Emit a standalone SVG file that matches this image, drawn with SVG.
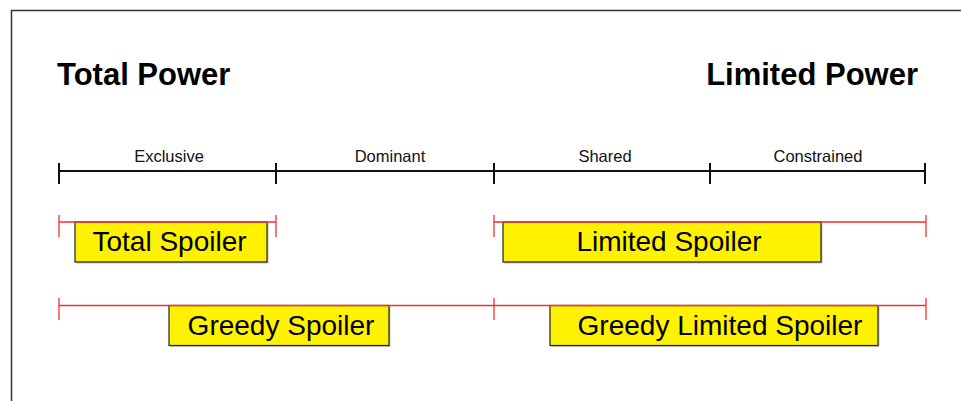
<svg xmlns="http://www.w3.org/2000/svg" width="961" height="401" viewBox="0 0 961 401">
<style>
.title{font-family:"Liberation Sans",Arial,sans-serif;font-weight:bold;font-size:31px;fill:#000}
.lab{font-family:"Liberation Sans",Arial,sans-serif;font-size:16.5px;fill:#111;text-anchor:middle}
.box{fill:#fff200;stroke:#222;stroke-width:1.2}
.shadow{fill:#999;opacity:0.6}
.btxt{font-family:"Liberation Sans",Arial,sans-serif;font-size:28px;fill:#000;text-anchor:middle}
.axis{stroke:#111;stroke-width:2;fill:none}
.red{stroke:#ee3333;stroke-width:1.3;fill:none}
</style>
<rect width="961" height="401" fill="#fff"/>
<path d="M11.5,401 V10.5 H961" fill="none" stroke="#333" stroke-width="1.5"/>
<text class="title" x="57" y="85">Total Power</text>
<text class="title" x="918" y="85" text-anchor="end">Limited Power</text>
<g id="axis">
<path class="axis" d="M59,171 H925 M59,163 V184 M276,163 V184 M494,163 V184 M710,163 V184 M925,163 V184"/>
<text class="lab" x="169" y="161.5">Exclusive</text>
<text class="lab" x="390" y="161.5">Dominant</text>
<text class="lab" x="605" y="161.5">Shared</text>
<text class="lab" x="818" y="161.5">Constrained</text>
</g>
<g id="total-spoiler">
<rect class="shadow" x="76.5" y="223.5" width="192" height="40"/>
<rect class="box" x="75" y="222" width="192" height="40"/>
<text class="btxt" x="169.5" y="250.5">Total Spoiler</text>
</g>
<g id="limited-spoiler">
<rect class="shadow" x="504.5" y="223.5" width="318" height="40"/>
<rect class="box" x="503" y="222" width="318" height="40"/>
<text class="btxt" x="669" y="250.5">Limited Spoiler</text>
</g>
<g id="greedy-spoiler">
<rect class="shadow" x="170.5" y="307" width="220" height="40"/>
<rect class="box" x="169" y="305.5" width="220" height="40"/>
<text class="btxt" x="281" y="334.5">Greedy Spoiler</text>
</g>
<g id="greedy-limited-spoiler">
<rect class="shadow" x="551.5" y="307" width="328" height="40"/>
<rect class="box" x="550" y="305.5" width="328" height="40"/>
<text class="btxt" x="720" y="334.5">Greedy Limited Spoiler</text>
</g>
<g id="connectors">
<path class="red" d="M59,222 H276 M59,215 V237 M276,215 V237"/>
<path class="red" d="M494,222 H926 M494,215 V237 M926,215 V237"/>
<path class="red" d="M59,305.5 H926 M59,298 V320 M494,298 V320 M926,298 V320"/>
</g>
</svg>
